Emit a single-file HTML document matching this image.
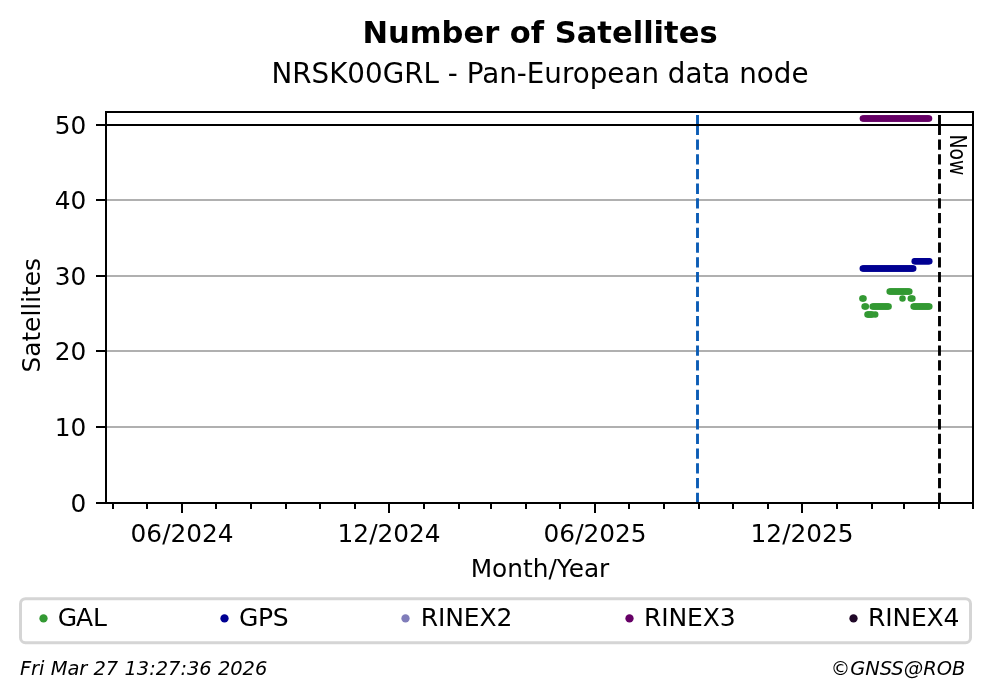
<!DOCTYPE html>
<html lang="en"><head><meta charset="utf-8"><title>Number of Satellites</title>
<style>
html,body{margin:0;padding:0;background:#fff;}
body{width:992px;height:699px;overflow:hidden;}
svg{display:block;font-family:"DejaVu Sans","Liberation Sans",sans-serif;fill:#000;}
</style></head><body>
<svg width="992" height="699" viewBox="0 0 992 699">
<rect width="992" height="699" fill="#fff"/>

<g stroke="#b0b0b0" stroke-width="2" shape-rendering="crispEdges">
<line x1="106" x2="973" y1="200" y2="200"/>
<line x1="106" x2="973" y1="276" y2="276"/>
<line x1="106" x2="973" y1="351" y2="351"/>
<line x1="106" x2="973" y1="427" y2="427"/>
</g>
<g>
<circle cx="862.40" cy="298.5" r="3.25" fill="#339933"/>
<circle cx="863.50" cy="298.5" r="3.25" fill="#339933"/>
<circle cx="902.50" cy="298.5" r="3.25" fill="#339933"/>
<circle cx="910.80" cy="298.5" r="3.25" fill="#339933"/>
<circle cx="912.40" cy="298.5" r="3.25" fill="#339933"/>
<circle cx="864.60" cy="306.4" r="3.25" fill="#339933"/>
<circle cx="865.80" cy="306.4" r="3.25" fill="#339933"/>
<circle cx="872.70" cy="306.4" r="3.25" fill="#339933"/>
<circle cx="873.84" cy="306.4" r="3.25" fill="#339933"/>
<circle cx="874.97" cy="306.4" r="3.25" fill="#339933"/>
<circle cx="876.11" cy="306.4" r="3.25" fill="#339933"/>
<circle cx="877.24" cy="306.4" r="3.25" fill="#339933"/>
<circle cx="878.38" cy="306.4" r="3.25" fill="#339933"/>
<circle cx="879.51" cy="306.4" r="3.25" fill="#339933"/>
<circle cx="880.65" cy="306.4" r="3.25" fill="#339933"/>
<circle cx="881.79" cy="306.4" r="3.25" fill="#339933"/>
<circle cx="882.92" cy="306.4" r="3.25" fill="#339933"/>
<circle cx="884.06" cy="306.4" r="3.25" fill="#339933"/>
<circle cx="885.19" cy="306.4" r="3.25" fill="#339933"/>
<circle cx="886.33" cy="306.4" r="3.25" fill="#339933"/>
<circle cx="887.46" cy="306.4" r="3.25" fill="#339933"/>
<circle cx="888.60" cy="306.4" r="3.25" fill="#339933"/>
<circle cx="913.60" cy="306.4" r="3.25" fill="#339933"/>
<circle cx="914.72" cy="306.4" r="3.25" fill="#339933"/>
<circle cx="915.84" cy="306.4" r="3.25" fill="#339933"/>
<circle cx="916.96" cy="306.4" r="3.25" fill="#339933"/>
<circle cx="918.09" cy="306.4" r="3.25" fill="#339933"/>
<circle cx="919.21" cy="306.4" r="3.25" fill="#339933"/>
<circle cx="920.33" cy="306.4" r="3.25" fill="#339933"/>
<circle cx="921.45" cy="306.4" r="3.25" fill="#339933"/>
<circle cx="922.57" cy="306.4" r="3.25" fill="#339933"/>
<circle cx="923.69" cy="306.4" r="3.25" fill="#339933"/>
<circle cx="924.81" cy="306.4" r="3.25" fill="#339933"/>
<circle cx="925.94" cy="306.4" r="3.25" fill="#339933"/>
<circle cx="927.06" cy="306.4" r="3.25" fill="#339933"/>
<circle cx="928.18" cy="306.4" r="3.25" fill="#339933"/>
<circle cx="929.30" cy="306.4" r="3.25" fill="#339933"/>
<circle cx="867.50" cy="314.5" r="3.25" fill="#339933"/>
<circle cx="868.62" cy="314.5" r="3.25" fill="#339933"/>
<circle cx="869.75" cy="314.5" r="3.25" fill="#339933"/>
<circle cx="870.88" cy="314.5" r="3.25" fill="#339933"/>
<circle cx="872.00" cy="314.5" r="3.25" fill="#339933"/>
<circle cx="875.20" cy="314.5" r="3.25" fill="#339933"/>
<circle cx="889.70" cy="291.4" r="3.25" fill="#339933"/>
<circle cx="890.85" cy="291.4" r="3.25" fill="#339933"/>
<circle cx="892.01" cy="291.4" r="3.25" fill="#339933"/>
<circle cx="893.16" cy="291.4" r="3.25" fill="#339933"/>
<circle cx="894.31" cy="291.4" r="3.25" fill="#339933"/>
<circle cx="895.46" cy="291.4" r="3.25" fill="#339933"/>
<circle cx="896.62" cy="291.4" r="3.25" fill="#339933"/>
<circle cx="897.77" cy="291.4" r="3.25" fill="#339933"/>
<circle cx="898.92" cy="291.4" r="3.25" fill="#339933"/>
<circle cx="900.08" cy="291.4" r="3.25" fill="#339933"/>
<circle cx="901.23" cy="291.4" r="3.25" fill="#339933"/>
<circle cx="902.38" cy="291.4" r="3.25" fill="#339933"/>
<circle cx="903.54" cy="291.4" r="3.25" fill="#339933"/>
<circle cx="904.69" cy="291.4" r="3.25" fill="#339933"/>
<circle cx="905.84" cy="291.4" r="3.25" fill="#339933"/>
<circle cx="906.99" cy="291.4" r="3.25" fill="#339933"/>
<circle cx="908.15" cy="291.4" r="3.25" fill="#339933"/>
<circle cx="909.30" cy="291.4" r="3.25" fill="#339933"/>
<circle cx="862.80" cy="268.45" r="3.25" fill="#000092"/>
<circle cx="863.92" cy="268.45" r="3.25" fill="#000092"/>
<circle cx="865.04" cy="268.45" r="3.25" fill="#000092"/>
<circle cx="866.16" cy="268.45" r="3.25" fill="#000092"/>
<circle cx="867.28" cy="268.45" r="3.25" fill="#000092"/>
<circle cx="868.40" cy="268.45" r="3.25" fill="#000092"/>
<circle cx="869.52" cy="268.45" r="3.25" fill="#000092"/>
<circle cx="870.64" cy="268.45" r="3.25" fill="#000092"/>
<circle cx="871.76" cy="268.45" r="3.25" fill="#000092"/>
<circle cx="872.88" cy="268.45" r="3.25" fill="#000092"/>
<circle cx="874.00" cy="268.45" r="3.25" fill="#000092"/>
<circle cx="875.12" cy="268.45" r="3.25" fill="#000092"/>
<circle cx="876.24" cy="268.45" r="3.25" fill="#000092"/>
<circle cx="877.36" cy="268.45" r="3.25" fill="#000092"/>
<circle cx="878.48" cy="268.45" r="3.25" fill="#000092"/>
<circle cx="879.60" cy="268.45" r="3.25" fill="#000092"/>
<circle cx="880.72" cy="268.45" r="3.25" fill="#000092"/>
<circle cx="881.84" cy="268.45" r="3.25" fill="#000092"/>
<circle cx="882.96" cy="268.45" r="3.25" fill="#000092"/>
<circle cx="884.08" cy="268.45" r="3.25" fill="#000092"/>
<circle cx="885.20" cy="268.45" r="3.25" fill="#000092"/>
<circle cx="886.32" cy="268.45" r="3.25" fill="#000092"/>
<circle cx="887.44" cy="268.45" r="3.25" fill="#000092"/>
<circle cx="888.56" cy="268.45" r="3.25" fill="#000092"/>
<circle cx="889.68" cy="268.45" r="3.25" fill="#000092"/>
<circle cx="890.80" cy="268.45" r="3.25" fill="#000092"/>
<circle cx="891.92" cy="268.45" r="3.25" fill="#000092"/>
<circle cx="893.04" cy="268.45" r="3.25" fill="#000092"/>
<circle cx="894.16" cy="268.45" r="3.25" fill="#000092"/>
<circle cx="895.28" cy="268.45" r="3.25" fill="#000092"/>
<circle cx="896.40" cy="268.45" r="3.25" fill="#000092"/>
<circle cx="897.52" cy="268.45" r="3.25" fill="#000092"/>
<circle cx="898.64" cy="268.45" r="3.25" fill="#000092"/>
<circle cx="899.76" cy="268.45" r="3.25" fill="#000092"/>
<circle cx="900.88" cy="268.45" r="3.25" fill="#000092"/>
<circle cx="902.00" cy="268.45" r="3.25" fill="#000092"/>
<circle cx="903.12" cy="268.45" r="3.25" fill="#000092"/>
<circle cx="904.24" cy="268.45" r="3.25" fill="#000092"/>
<circle cx="905.36" cy="268.45" r="3.25" fill="#000092"/>
<circle cx="906.48" cy="268.45" r="3.25" fill="#000092"/>
<circle cx="907.60" cy="268.45" r="3.25" fill="#000092"/>
<circle cx="908.72" cy="268.45" r="3.25" fill="#000092"/>
<circle cx="909.84" cy="268.45" r="3.25" fill="#000092"/>
<circle cx="910.96" cy="268.45" r="3.25" fill="#000092"/>
<circle cx="912.08" cy="268.45" r="3.25" fill="#000092"/>
<circle cx="913.20" cy="268.45" r="3.25" fill="#000092"/>
<circle cx="914.70" cy="261.3" r="3.25" fill="#000092"/>
<circle cx="915.82" cy="261.3" r="3.25" fill="#000092"/>
<circle cx="916.95" cy="261.3" r="3.25" fill="#000092"/>
<circle cx="918.07" cy="261.3" r="3.25" fill="#000092"/>
<circle cx="919.19" cy="261.3" r="3.25" fill="#000092"/>
<circle cx="920.32" cy="261.3" r="3.25" fill="#000092"/>
<circle cx="921.44" cy="261.3" r="3.25" fill="#000092"/>
<circle cx="922.56" cy="261.3" r="3.25" fill="#000092"/>
<circle cx="923.68" cy="261.3" r="3.25" fill="#000092"/>
<circle cx="924.81" cy="261.3" r="3.25" fill="#000092"/>
<circle cx="925.93" cy="261.3" r="3.25" fill="#000092"/>
<circle cx="927.05" cy="261.3" r="3.25" fill="#000092"/>
<circle cx="928.18" cy="261.3" r="3.25" fill="#000092"/>
<circle cx="929.30" cy="261.3" r="3.25" fill="#000092"/>
<circle cx="862.90" cy="118.45" r="3.25" fill="#660066"/>
<circle cx="864.04" cy="118.45" r="3.25" fill="#660066"/>
<circle cx="865.18" cy="118.45" r="3.25" fill="#660066"/>
<circle cx="866.32" cy="118.45" r="3.25" fill="#660066"/>
<circle cx="867.46" cy="118.45" r="3.25" fill="#660066"/>
<circle cx="868.60" cy="118.45" r="3.25" fill="#660066"/>
<circle cx="869.74" cy="118.45" r="3.25" fill="#660066"/>
<circle cx="870.88" cy="118.45" r="3.25" fill="#660066"/>
<circle cx="872.02" cy="118.45" r="3.25" fill="#660066"/>
<circle cx="873.16" cy="118.45" r="3.25" fill="#660066"/>
<circle cx="874.30" cy="118.45" r="3.25" fill="#660066"/>
<circle cx="875.44" cy="118.45" r="3.25" fill="#660066"/>
<circle cx="876.58" cy="118.45" r="3.25" fill="#660066"/>
<circle cx="877.72" cy="118.45" r="3.25" fill="#660066"/>
<circle cx="878.86" cy="118.45" r="3.25" fill="#660066"/>
<circle cx="879.99" cy="118.45" r="3.25" fill="#660066"/>
<circle cx="881.13" cy="118.45" r="3.25" fill="#660066"/>
<circle cx="882.27" cy="118.45" r="3.25" fill="#660066"/>
<circle cx="883.41" cy="118.45" r="3.25" fill="#660066"/>
<circle cx="884.55" cy="118.45" r="3.25" fill="#660066"/>
<circle cx="885.69" cy="118.45" r="3.25" fill="#660066"/>
<circle cx="886.83" cy="118.45" r="3.25" fill="#660066"/>
<circle cx="887.97" cy="118.45" r="3.25" fill="#660066"/>
<circle cx="889.11" cy="118.45" r="3.25" fill="#660066"/>
<circle cx="890.25" cy="118.45" r="3.25" fill="#660066"/>
<circle cx="891.39" cy="118.45" r="3.25" fill="#660066"/>
<circle cx="892.53" cy="118.45" r="3.25" fill="#660066"/>
<circle cx="893.67" cy="118.45" r="3.25" fill="#660066"/>
<circle cx="894.81" cy="118.45" r="3.25" fill="#660066"/>
<circle cx="895.95" cy="118.45" r="3.25" fill="#660066"/>
<circle cx="897.09" cy="118.45" r="3.25" fill="#660066"/>
<circle cx="898.23" cy="118.45" r="3.25" fill="#660066"/>
<circle cx="899.37" cy="118.45" r="3.25" fill="#660066"/>
<circle cx="900.51" cy="118.45" r="3.25" fill="#660066"/>
<circle cx="901.65" cy="118.45" r="3.25" fill="#660066"/>
<circle cx="902.79" cy="118.45" r="3.25" fill="#660066"/>
<circle cx="903.93" cy="118.45" r="3.25" fill="#660066"/>
<circle cx="905.07" cy="118.45" r="3.25" fill="#660066"/>
<circle cx="906.21" cy="118.45" r="3.25" fill="#660066"/>
<circle cx="907.35" cy="118.45" r="3.25" fill="#660066"/>
<circle cx="908.49" cy="118.45" r="3.25" fill="#660066"/>
<circle cx="909.63" cy="118.45" r="3.25" fill="#660066"/>
<circle cx="910.77" cy="118.45" r="3.25" fill="#660066"/>
<circle cx="911.91" cy="118.45" r="3.25" fill="#660066"/>
<circle cx="913.04" cy="118.45" r="3.25" fill="#660066"/>
<circle cx="914.18" cy="118.45" r="3.25" fill="#660066"/>
<circle cx="915.32" cy="118.45" r="3.25" fill="#660066"/>
<circle cx="916.46" cy="118.45" r="3.25" fill="#660066"/>
<circle cx="917.60" cy="118.45" r="3.25" fill="#660066"/>
<circle cx="918.74" cy="118.45" r="3.25" fill="#660066"/>
<circle cx="919.88" cy="118.45" r="3.25" fill="#660066"/>
<circle cx="921.02" cy="118.45" r="3.25" fill="#660066"/>
<circle cx="922.16" cy="118.45" r="3.25" fill="#660066"/>
<circle cx="923.30" cy="118.45" r="3.25" fill="#660066"/>
<circle cx="924.44" cy="118.45" r="3.25" fill="#660066"/>
<circle cx="925.58" cy="118.45" r="3.25" fill="#660066"/>
<circle cx="926.72" cy="118.45" r="3.25" fill="#660066"/>
<circle cx="927.86" cy="118.45" r="3.25" fill="#660066"/>
<circle cx="929.00" cy="118.45" r="3.25" fill="#660066"/>
</g>
<path d="M697.5 492.72V503.00M697.5 478.00V488.28M697.5 463.28V473.56M697.5 448.56V458.84M697.5 433.84V444.12M697.5 419.12V429.40M697.5 404.40V414.68M697.5 389.68V399.96M697.5 374.96V385.24M697.5 360.24V370.52M697.5 345.52V355.80M697.5 330.80V341.08M697.5 316.08V326.36M697.5 301.36V311.64M697.5 286.64V296.92M697.5 271.92V282.20M697.5 257.20V267.48M697.5 242.48V252.76M697.5 227.76V238.04M697.5 213.04V223.32M697.5 198.32V208.60M697.5 183.60V193.88M697.5 168.88V179.16M697.5 154.16V164.44M697.5 139.44V149.72M697.5 115.00V135.00" stroke="#0b5cb5" stroke-width="2.9" fill="none"/>
<path d="M939.5 492.72V503.00M939.5 478.00V488.28M939.5 463.28V473.56M939.5 448.56V458.84M939.5 433.84V444.12M939.5 419.12V429.40M939.5 404.40V414.68M939.5 389.68V399.96M939.5 374.96V385.24M939.5 360.24V370.52M939.5 345.52V355.80M939.5 330.80V341.08M939.5 316.08V326.36M939.5 301.36V311.64M939.5 286.64V296.92M939.5 271.92V282.20M939.5 257.20V267.48M939.5 242.48V252.76M939.5 227.76V238.04M939.5 213.04V223.32M939.5 198.32V208.60M939.5 183.60V193.88M939.5 168.88V179.16M939.5 154.16V164.44M939.5 139.44V149.72M939.5 115.00V135.00" stroke="#000" stroke-width="2.9" fill="none"/>
<line x1="106" x2="973" y1="125" y2="125" stroke="#000" stroke-width="2" shape-rendering="crispEdges"/>
<rect x="106" y="112" width="867" height="391" fill="none" stroke="#000" stroke-width="2" shape-rendering="crispEdges"/>
<g stroke="#000" stroke-width="2" shape-rendering="crispEdges">
<line x1="96" x2="106" y1="125" y2="125"/>
<line x1="96" x2="106" y1="200" y2="200"/>
<line x1="96" x2="106" y1="276" y2="276"/>
<line x1="96" x2="106" y1="351" y2="351"/>
<line x1="96" x2="106" y1="427" y2="427"/>
<line x1="96" x2="106" y1="503" y2="503"/>
</g>
<g font-size="24.8" text-anchor="end">
<text x="86.3" y="134.1">50</text>
<text x="86.3" y="209.1">40</text>
<text x="86.3" y="285.1">30</text>
<text x="86.3" y="360.1">20</text>
<text x="86.3" y="436.1">10</text>
<text x="86.3" y="512.1">0</text>
</g>
<g stroke="#000" stroke-width="2" shape-rendering="crispEdges">
<line x1="182" x2="182" y1="503" y2="512.7"/>
<line x1="389" x2="389" y1="503" y2="512.7"/>
<line x1="595" x2="595" y1="503" y2="512.7"/>
<line x1="802" x2="802" y1="503" y2="512.7"/>
<line x1="113" x2="113" y1="503" y2="508.6"/>
<line x1="147" x2="147" y1="503" y2="508.6"/>
<line x1="216" x2="216" y1="503" y2="508.6"/>
<line x1="251" x2="251" y1="503" y2="508.6"/>
<line x1="286" x2="286" y1="503" y2="508.6"/>
<line x1="320" x2="320" y1="503" y2="508.6"/>
<line x1="355" x2="355" y1="503" y2="508.6"/>
<line x1="424" x2="424" y1="503" y2="508.6"/>
<line x1="459" x2="459" y1="503" y2="508.6"/>
<line x1="491" x2="491" y1="503" y2="508.6"/>
<line x1="526" x2="526" y1="503" y2="508.6"/>
<line x1="560" x2="560" y1="503" y2="508.6"/>
<line x1="629" x2="629" y1="503" y2="508.6"/>
<line x1="664" x2="664" y1="503" y2="508.6"/>
<line x1="699" x2="699" y1="503" y2="508.6"/>
<line x1="733" x2="733" y1="503" y2="508.6"/>
<line x1="768" x2="768" y1="503" y2="508.6"/>
<line x1="837" x2="837" y1="503" y2="508.6"/>
<line x1="872" x2="872" y1="503" y2="508.6"/>
<line x1="904" x2="904" y1="503" y2="508.6"/>
<line x1="939" x2="939" y1="503" y2="508.6"/>
<line x1="973" x2="973" y1="503" y2="508.6"/>
</g>
<g font-size="24.8" text-anchor="middle">
<text x="182.1" y="541.8">06/2024</text>
<text x="389.1" y="541.8">12/2024</text>
<text x="595.1" y="541.8">06/2025</text>
<text x="802.1" y="541.8">12/2025</text>
</g>
<text x="540" y="576.6" font-size="24.8" text-anchor="middle">Month/Year</text>
<text transform="translate(40.3 315.3) rotate(-90)" font-size="24.8" text-anchor="middle">Satellites</text>
<text transform="translate(950.2 134.4) rotate(90) scale(0.845 1)" font-size="22.22">Now</text>
<text x="540" y="42.6" font-size="30.56" font-weight="bold" text-anchor="middle">Number of Satellites</text>
<text x="540" y="83" font-size="27.78" text-anchor="middle">NRSK00GRL - Pan-European data node</text>
<rect x="20.5" y="598.7" width="950" height="44" rx="5" ry="5" fill="#fff" stroke="#d5d5d5" stroke-width="3"/>
<g font-size="25">
<circle cx="43.5" cy="618.4" r="4.15" fill="#339933"/><text x="58.1" y="625.5" dx="-0.4 -1.2 0">GAL</text>
<circle cx="224.5" cy="618.4" r="4.15" fill="#000092"/><text x="239.1" y="625.5" letter-spacing="-0.4">GPS</text>
<circle cx="405.5" cy="618.4" r="4.15" fill="#807dba"/><text x="420.1" y="625.5" dx="0.6" letter-spacing="-0.1">RINEX2</text>
<circle cx="629.5" cy="618.4" r="4.15" fill="#660066"/><text x="644.1" y="625.5" letter-spacing="-0.15">RINEX3</text>
<circle cx="853.5" cy="618.4" r="4.15" fill="#200828"/><text x="868.1" y="625.5" letter-spacing="-0.2">RINEX4</text>
</g>
<text x="19.9" y="674.6" font-size="19.44" font-style="italic">Fri Mar 27 13:27:36 2026</text>
<text x="965.3" y="674.6" font-size="19.44" font-style="italic" text-anchor="end">©GNSS@ROB</text>
</svg></body></html>
